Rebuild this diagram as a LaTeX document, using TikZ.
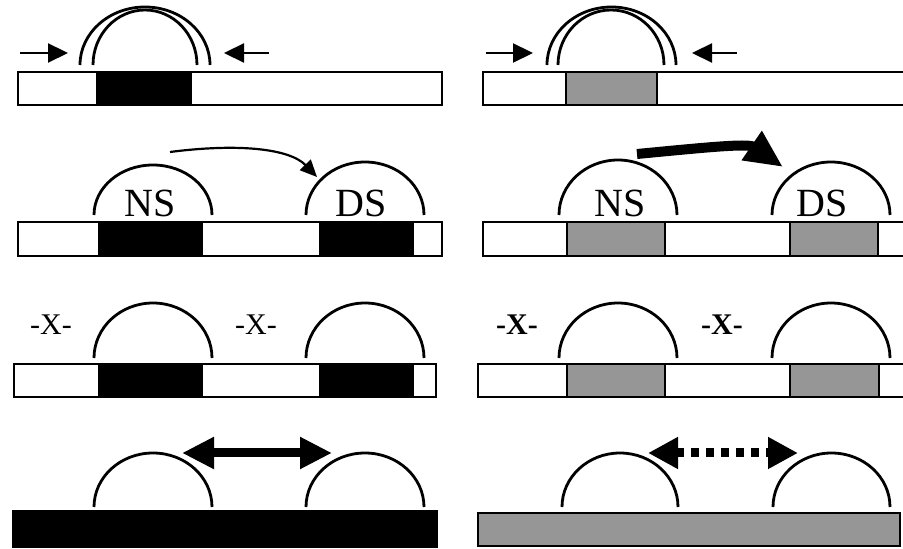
\documentclass[tikz,border=0pt]{standalone}
\usepackage{fontspec}
\setmainfont{Liberation Serif}
\usetikzlibrary{arrows.meta}
\definecolor{sitegray}{RGB}{150,150,150}
\begin{document}
\begin{tikzpicture}[x=1pt, y=1pt,
  bar/.style={draw=black, line width=2.5pt},
  blk/.style={bar, fill=black},
  gry/.style={bar, fill=sitegray},
  arch/.style={line width=2.8pt},
  lbl/.style={font=\fontsize{40}{40}\selectfont, inner sep=0pt},
  xlbl/.style={font=\fontsize{30}{30}\selectfont, inner sep=0pt},
  push/.style={line width=2.2pt, -{Triangle[length=20pt,width=19pt]}}
]
\clip (0,0) rectangle (903,549);

% ================= ROW 1 =================
\draw[bar] (18,444) rectangle (442,477);
\draw[blk] (97,444) rectangle (191,477);
\draw[bar] (483,444) rectangle (915,477);
\draw[gry] (566,444) rectangle (657,477);

\foreach \cx/\fy/\rx/\ry in {145/484/65/58, 145/484/52/55,
  611.5/484/64.5/58, 611/484/53/55}
{
  \draw[arch] (\cx-\rx,\fy) arc[start angle=180, end angle=0, x radius=\rx, y radius=\ry];
}

\coordinate (la1) at (20,496);  \coordinate (lb1) at (68,496);
\coordinate (lc1) at (269,496); \coordinate (ld1) at (224,496);
\coordinate (ra1) at (486,496); \coordinate (rb1) at (533,496);
\coordinate (rc1) at (737,496); \coordinate (rd1) at (692,496);
\draw[push] (la1) -- (lb1);
\draw[push] (lc1) -- (ld1);
\draw[push] (ra1) -- (rb1);
\draw[push] (rc1) -- (rd1);

% ================= ROW 2 =================
\draw[bar] (18,293) rectangle (442,327);
\draw[blk] (99,293) rectangle (202,327);
\draw[blk] (320,293) rectangle (413,327);
\draw[bar] (483,293) rectangle (915,327);
\draw[gry] (567,293) rectangle (665,327);
\draw[gry] (790,293) rectangle (878,327);

\foreach \cx/\fy/\rx/\ry in {153/334/59/50, 365/334/59/53,
  618/334/59/55, 831/334/59/53}
{
  \draw[arch] (\cx-\rx,\fy) arc[start angle=180, end angle=0, x radius=\rx, y radius=\ry];
}

\node[lbl] (ns1) at (150,346) {NS};
\node[lbl] (ds1) at (361,346) {DS};
\node[lbl] (ns2) at (620,346) {NS};
\node[lbl] (ds2) at (822,346) {DS};

\coordinate (sa) at (170,397); \coordinate (sb) at (317,372);
\draw[line width=2.2pt, -{Triangle[length=17pt,width=15pt]}]
  (sa) .. controls (240,406) and (290,400) .. (sb);
\coordinate (ta) at (637,395); \coordinate (tb) at (783,382);
\draw[line width=10pt, -{Triangle[length=38pt,width=33pt]}]
  (ta) .. controls (700,401) and (748,406) .. (tb);

% ================= ROW 3 =================
\draw[bar] (14,152) rectangle (436,185);
\draw[blk] (99,152) rectangle (202,185);
\draw[blk] (320,152) rectangle (413,185);
\draw[bar] (478,152) rectangle (915,185);
\draw[gry] (567,152) rectangle (665,185);
\draw[gry] (790,152) rectangle (879,185);

\foreach \cx/\fy/\rx/\ry in {153/191/59/55, 365/191/59/55,
  618/191/59/55, 831/191/59/55}
{
  \draw[arch] (\cx-\rx,\fy) arc[start angle=180, end angle=0, x radius=\rx, y radius=\ry];
}

\node[xlbl] (x1) at (51,224) {-X-};
\node[xlbl] (x2) at (256,224) {-X-};
\node[xlbl, font=\fontsize{30}{30}\selectfont\bfseries] (x3) at (517,224) {-X-};
\node[xlbl, font=\fontsize{30}{30}\selectfont\bfseries] (x4) at (722,224) {-X-};

% ================= ROW 4 =================
\draw[blk] (13,2) rectangle (437,38);
\draw[gry] (478,3) rectangle (900,36);

\foreach \cx/\fy/\rx/\ry in {153/42/59/54, 365/42/59/54,
  620/42/58/54, 831.5/42/58.5/54}
{
  \draw[arch] (\cx-\rx,\fy) arc[start angle=180, end angle=0, x radius=\rx, y radius=\ry];
}

\coordinate (pa) at (182,96); \coordinate (pb) at (332,96);
\draw[line width=9pt, {Triangle[length=32pt,width=30pt]}-{Triangle[length=32pt,width=30pt]}]
  (pa) -- (pb);
\coordinate (qa) at (648,96); \coordinate (qb) at (798,96);
\draw[line width=9pt, dash pattern=on 8pt off 7pt,
  {Triangle[length=30pt,width=30pt]}-{Triangle[length=30pt,width=30pt]}]
  (qa) -- (qb);

\end{tikzpicture}
\end{document}
